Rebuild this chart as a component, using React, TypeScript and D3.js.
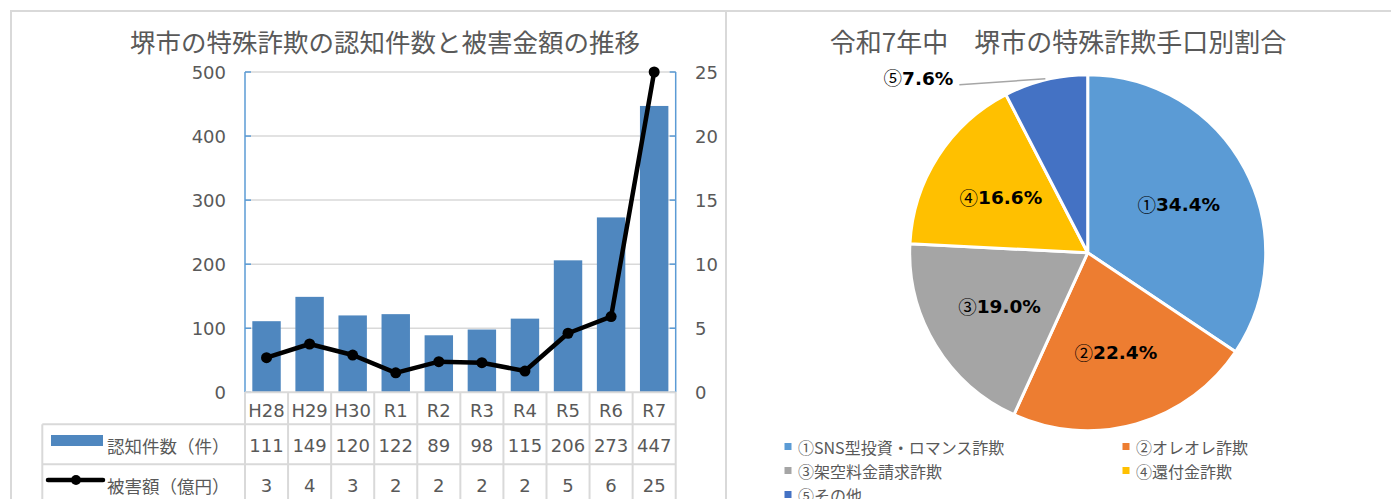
import React, { useEffect, useRef } from "react";
import * as d3 from "d3";

// left chart data
const years = ["H28", "H29", "H30", "R1", "R2", "R3", "R4", "R5", "R6", "R7"];
const cases = [111, 149, 120, 122, 89, 98, 115, 206, 273, 447]; // 認知件数（件）
const damage = [2.7, 3.77, 2.91, 1.52, 2.39, 2.31, 1.66, 4.61, 5.91, 25.0]; // 被害額（億円）
const leftTicks = [0, 100, 200, 300, 400, 500];
const rightTicks = [0, 5, 10, 15, 20, 25];

// right chart data
const methods = ["①SNS型投資・ロマンス詐欺", "②オレオレ詐欺", "③架空料金請求詐欺", "④還付金詐欺", "⑤その他"];
const shortNames = ["①", "②", "③", "④", "⑤"];
const shares = [34.4, 22.4, 19.0, 16.6, 7.6];
const pieColors = ["#5b9bd5", "#ed7d31", "#a5a5a5", "#ffc000", "#4472c4"];

const W = 1391, H = 499;
const TXT = "#595959";
const GRID = "#d9d9d9";
const NUMFONT = "'DejaVu Sans', 'Noto Sans CJK JP', sans-serif";
const JPFONT = "'Noto Sans CJK JP', sans-serif";

export default function App() {
  const ref = useRef<SVGSVGElement>(null);

  useEffect(() => {
    document.body.style.margin = "0";
    const svg = d3.select(ref.current);
    svg.selectAll("*").remove();
    svg.append("rect").attr("width", W).attr("height", H).attr("fill", "#fff");

    // chart frames
    svg.append("rect").attr("x", 11).attr("y", 11).attr("width", 715).attr("height", H + 20)
      .attr("fill", "none").attr("stroke", GRID).attr("stroke-width", 2);
    svg.append("rect").attr("x", 726).attr("y", 11).attr("width", 700).attr("height", H + 20)
      .attr("fill", "none").attr("stroke", GRID).attr("stroke-width", 2);

    // ---------- left chart ----------
    const g = svg.append("g");
    const x = d3.scaleBand<string>().domain(years).range([245, 675.7]).paddingInner(0.34).paddingOuter(0.17);
    const yL = d3.scaleLinear().domain([0, 500]).range([392.3, 72]);
    const yR = d3.scaleLinear().domain([0, 25]).range([392.3, 72]);
    const [x0, x1] = x.range();
    const step = x.step();

    g.append("text").attr("x", 385).attr("y", 40).attr("text-anchor", "middle")
      .attr("dominant-baseline", "central").attr("fill", TXT)
      .style("font-family", JPFONT).style("font-size", "25.5px")
      .text("堺市の特殊詐欺の認知件数と被害金額の推移");

    // gridlines
    g.selectAll(".grid").data(leftTicks.slice(1)).join("line")
      .attr("x1", x0).attr("x2", x1).attr("y1", d => yL(d)).attr("y2", d => yL(d))
      .attr("stroke", GRID).attr("stroke-width", 1.5);

    // bars
    g.selectAll(".bar").data(cases).join("rect")
      .attr("x", (d, i) => x(years[i])!).attr("width", x.bandwidth())
      .attr("y", d => yL(d)).attr("height", d => yL(0) - yL(d))
      .attr("fill", "#4f87bf");

    // axes (blue lines with inner ticks)
    const axisCol = "#5b9bd5";
    g.append("line").attr("x1", x0).attr("x2", x0).attr("y1", yL(500)).attr("y2", yL(0))
      .attr("stroke", axisCol).attr("stroke-width", 1.5);
    g.append("line").attr("x1", x1).attr("x2", x1).attr("y1", yR(25)).attr("y2", yR(0))
      .attr("stroke", axisCol).attr("stroke-width", 1.5);
    g.selectAll(".lt").data(leftTicks).join("line")
      .attr("x1", x0).attr("x2", x0 + 6).attr("y1", d => yL(d)).attr("y2", d => yL(d))
      .attr("stroke", axisCol).attr("stroke-width", 1.5);
    g.selectAll(".rt").data(rightTicks).join("line")
      .attr("x1", x1 - 6).attr("x2", x1).attr("y1", d => yR(d)).attr("y2", d => yR(d))
      .attr("stroke", axisCol).attr("stroke-width", 1.5);

    g.selectAll(".ll").data(leftTicks).join("text")
      .attr("x", 226).attr("y", d => yL(d)).attr("text-anchor", "end")
      .attr("dominant-baseline", "central").attr("fill", TXT)
      .style("font-family", NUMFONT).style("font-size", "18px").text(d => d);
    g.selectAll(".rl").data(rightTicks).join("text")
      .attr("x", 695).attr("y", d => yR(d)).attr("text-anchor", "start")
      .attr("dominant-baseline", "central").attr("fill", TXT)
      .style("font-family", NUMFONT).style("font-size", "18px").text(d => d);

    // data table
    const rowTop = 424.3, rowMid = 464.3, tableLeft = 42.3;
    g.append("line").attr("x1", x0).attr("x2", x1).attr("y1", yL(0)).attr("y2", yL(0))
      .attr("stroke", GRID).attr("stroke-width", 2);
    [rowTop, rowMid].forEach(yy => {
      g.append("line").attr("x1", tableLeft).attr("x2", x1).attr("y1", yy).attr("y2", yy)
        .attr("stroke", GRID).attr("stroke-width", 2);
    });
    g.append("line").attr("x1", tableLeft).attr("x2", tableLeft).attr("y1", rowTop).attr("y2", H + 5)
      .attr("stroke", GRID).attr("stroke-width", 2);
    g.selectAll(".vl").data(d3.range(years.length + 1)).join("line")
      .attr("x1", i => x0 + i * step).attr("x2", i => x0 + i * step)
      .attr("y1", yL(0)).attr("y2", H + 5)
      .attr("stroke", GRID).attr("stroke-width", 2);

    const cx = (i: number) => x(years[i])! + x.bandwidth() / 2;
    g.selectAll(".cat").data(years).join("text")
      .attr("x", (d, i) => cx(i)).attr("y", 410).attr("text-anchor", "middle")
      .attr("dominant-baseline", "central").attr("fill", TXT)
      .style("font-family", NUMFONT).style("font-size", "18px").text(d => d);
    g.selectAll(".v1").data(cases).join("text")
      .attr("x", (d, i) => cx(i)).attr("y", 445).attr("text-anchor", "middle")
      .attr("dominant-baseline", "central").attr("fill", TXT)
      .style("font-family", NUMFONT).style("font-size", "18px").text(d => d);
    g.selectAll(".v2").data(damage).join("text")
      .attr("x", (d, i) => cx(i)).attr("y", 485).attr("text-anchor", "middle")
      .attr("dominant-baseline", "central").attr("fill", TXT)
      .style("font-family", NUMFONT).style("font-size", "18px").text(d => Math.round(d));

    // table legend keys
    g.append("rect").attr("x", 51).attr("y", 435).attr("width", 52).attr("height", 11).attr("fill", "#4f87bf");
    g.append("line").attr("x1", 48).attr("x2", 103).attr("y1", 480).attr("y2", 480)
      .attr("stroke", "#000").attr("stroke-width", 4.5).attr("stroke-linecap", "round");
    g.append("circle").attr("cx", 76).attr("cy", 480).attr("r", 5).attr("fill", "#000");
    g.append("text").attr("x", 107).attr("y", 445).attr("dominant-baseline", "central").attr("fill", TXT)
      .style("font-family", JPFONT).style("font-size", "17.5px").text("認知件数（件）");
    g.append("text").attr("x", 107).attr("y", 485).attr("dominant-baseline", "central").attr("fill", TXT)
      .style("font-family", JPFONT).style("font-size", "17.5px").text("被害額（億円）");

    // damage line
    const line = d3.line<number>().x((d, i) => cx(i)).y(d => yR(d));
    g.append("path").attr("d", line(damage)).attr("fill", "none")
      .attr("stroke", "#000").attr("stroke-width", 4.5).attr("stroke-linejoin", "round");
    g.selectAll(".dot").data(damage).join("circle")
      .attr("cx", (d, i) => cx(i)).attr("cy", d => yR(d)).attr("r", 5.5).attr("fill", "#000");

    // ---------- right chart ----------
    const p = svg.append("g");
    p.append("text").attr("x", 1058).attr("y", 40).attr("text-anchor", "middle")
      .attr("dominant-baseline", "central").attr("fill", TXT)
      .style("font-family", JPFONT).style("font-size", "26px")
      .text("令和7年中　堺市の特殊詐欺手口別割合");

    const pcx = 1087.7, pcy = 252.7, r = 178;
    const pie = d3.pie<number>().sort(null).value(d => d);
    const arcs = pie(shares);
    const arc = d3.arc<d3.PieArcDatum<number>>().innerRadius(0).outerRadius(r);
    const labelArc = d3.arc<d3.PieArcDatum<number>>().innerRadius(r * 0.58).outerRadius(r * 0.58);
    const pg = p.append("g").attr("transform", `translate(${pcx},${pcy})`);
    pg.selectAll("path").data(arcs).join("path")
      .attr("d", arc).attr("fill", (d, i) => pieColors[i])
      .attr("stroke", "#fff").attr("stroke-width", 3).attr("stroke-linejoin", "round");

    const pctLabel = (sel: d3.Selection<SVGTextElement, any, any, any>, i: number) => {
      sel.append("tspan").style("font-family", JPFONT).style("font-weight", "normal").text(shortNames[i]);
      sel.append("tspan").style("font-family", NUMFONT).style("font-weight", "bold")
        .text(`${shares[i].toFixed(1)}%`);
    };

    // inside labels (first four)
    arcs.slice(0, 4).forEach((d, i) => {
      const [lx, ly] = labelArc.centroid(d);
      const t = pg.append("text").attr("x", lx).attr("y", ly)
        .attr("text-anchor", "middle").attr("dominant-baseline", "central")
        .attr("fill", "#000").style("font-size", "18.5px");
      pctLabel(t, i);
    });

    // outside label with leader line for the small slice
    const last = arcs[4];
    const mid = (last.startAngle + last.endAngle) / 2;
    const sx = Math.sin(mid) * (r + 1), sy = -Math.cos(mid) * (r + 1);
    const ex = sx - 86, ey = sy + 6;
    pg.append("line").attr("x1", sx).attr("y1", sy).attr("x2", ex).attr("y2", ey)
      .attr("stroke", "#a6a6a6").attr("stroke-width", 1.5);
    const t5 = pg.append("text").attr("x", ex - 6).attr("y", ey).attr("text-anchor", "end")
      .attr("fill", "#000").style("font-size", "18.5px");
    pctLabel(t5, 4);

    // legend
    const legX = [788, 1126];
    const legY = [446.5, 470.5, 494.5];
    methods.forEach((m, i) => {
      const lx = legX[i % 2], ly = legY[Math.floor(i / 2)];
      p.append("rect").attr("x", lx - 3.5).attr("y", ly - 3.5).attr("width", 7).attr("height", 7)
        .attr("fill", pieColors[i]);
      p.append("text").attr("x", lx + 10).attr("y", ly).attr("dominant-baseline", "central")
        .attr("fill", TXT).style("font-family", JPFONT).style("font-size", "16px").text(m);
    });
  }, []);

  return (
    <div style={{ position: "absolute", left: 0, top: 0, width: W, height: H, overflow: "hidden" }}>
      <svg ref={ref} width={W} height={H} style={{ display: "block" }}></svg>
    </div>
  );
}
